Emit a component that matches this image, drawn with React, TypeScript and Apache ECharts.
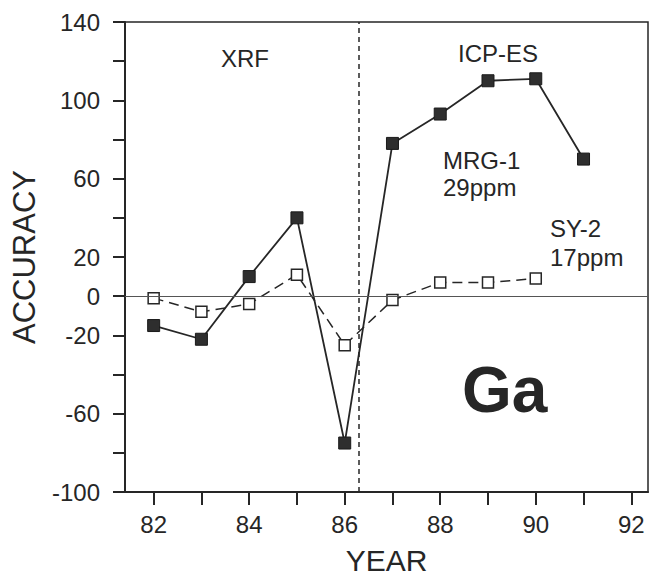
import React, { useEffect, useRef } from "react";
import * as echarts from "echarts";

const years = [82, 83, 84, 85, 86, 87, 88, 89, 90, 91];
const mrg1 = [-15, -22, 10, 40, -75, 78, 93, 110, 111, 70];
const sy2Years = [82, 83, 84, 85, 86, 87, 88, 89, 90];
const sy2 = [-1, -8, -4, 11, -25, -2, 7, 7, 9];
const xLabelValues = [82, 84, 86, 88, 90, 92];
const xTickValues = [82, 83, 84, 85, 86, 87, 88, 89, 90, 91, 92];
const yLabelValues = [-100, -60, -20, 0, 20, 60, 100, 140];
const methodBoundary = 86.3;

const FONT = "'Liberation Sans', Arial, Helvetica, sans-serif";
const INK = "#262626";

export default function App() {
  const ref = useRef<HTMLDivElement>(null);
  useEffect(() => {
    if (!ref.current) return;
    const chart = echarts.init(ref.current, undefined, { renderer: "svg" });
    const textStyle = (size: number, weight: string = "normal") => ({
      fill: INK,
      font: `${weight} ${size}px ${FONT}`,
    });
    chart.setOption({
      animation: false,
      backgroundColor: "#ffffff",
      grid: {
        left: 125,
        right: 2,
        top: 22,
        bottom: 88,
        show: true,
        borderColor: INK,
        borderWidth: 1.5,
        outerBoundsMode: "none",
        containLabel: false,
      },
      xAxis: {
        type: "value",
        min: 81.4,
        max: 92.35,
        name: "YEAR",
        nameLocation: "middle",
        nameGap: 52,
        nameTextStyle: { fontFamily: FONT, fontSize: 30, color: INK, lineHeight: 32 },
        axisLine: { show: true, onZero: false, lineStyle: { color: INK, width: 2 } },
        axisTick: {
          show: true,
          inside: false,
          length: 13,
          customValues: xTickValues,
          lineStyle: { color: INK, width: 2 },
        },
        axisLabel: {
          customValues: xLabelValues,
          fontFamily: FONT,
          fontSize: 24,
          color: INK,
          margin: 20,
        },
        splitLine: { show: false },
      },
      yAxis: {
        type: "value",
        min: -100,
        max: 140,
        interval: 20,
        name: "ACCURACY",
        nameLocation: "middle",
        nameGap: 85,
        nameRotate: 90,
        nameTextStyle: { fontFamily: FONT, fontSize: 31, color: INK },
        axisLine: { show: true, onZero: false, lineStyle: { color: INK, width: 2 } },
        axisTick: { show: true, length: 12, lineStyle: { color: INK, width: 2 } },
        axisLabel: {
          fontFamily: FONT,
          fontSize: 24,
          color: INK,
          margin: 25,
          formatter: (v: number) => (yLabelValues.includes(v) ? String(v) : ""),
        },
        splitLine: { show: false },
      },
      series: [
        {
          name: "SY-2",
          type: "line",
          data: sy2Years.map((y, i) => [y, sy2[i]]),
          symbol: "rect",
          symbolSize: 11,
          itemStyle: { color: "#ffffff", borderColor: INK, borderWidth: 1.5 },
          lineStyle: { color: INK, width: 1.5, type: [10, 6] },
          z: 3,
          markLine: {
            silent: true,
            symbol: "none",
            label: { show: false },
            data: [
              { yAxis: 0, lineStyle: { color: "#555555", width: 1, type: "solid" } },
              { xAxis: methodBoundary, lineStyle: { color: INK, width: 1.5, type: [5, 4] } },
            ],
          },
        },
        {
          name: "MRG-1",
          type: "line",
          data: years.map((y, i) => [y, mrg1[i]]),
          symbol: "rect",
          symbolSize: 12,
          itemStyle: { color: "#2e2e2e", borderColor: "#1a1a1a", borderWidth: 1 },
          lineStyle: { color: INK, width: 1.8, type: "solid" },
          z: 4,
        },
      ],
      graphic: [
        { type: "text", x: 245, y: 58, style: { text: "XRF", align: "center", verticalAlign: "middle", ...textStyle(24) } },
        { type: "text", x: 498, y: 53, style: { text: "ICP-ES", align: "center", verticalAlign: "middle", ...textStyle(24) } },
        { type: "text", x: 443, y: 160, style: { text: "MRG-1", align: "left", verticalAlign: "middle", ...textStyle(24) } },
        { type: "text", x: 443, y: 187, style: { text: "29ppm", align: "left", verticalAlign: "middle", ...textStyle(24) } },
        { type: "text", x: 550, y: 228, style: { text: "SY-2", align: "left", verticalAlign: "middle", ...textStyle(24) } },
        { type: "text", x: 550, y: 257, style: { text: "17ppm", align: "left", verticalAlign: "middle", ...textStyle(24) } },
        { type: "text", x: 462, y: 390, style: { text: "Ga", align: "left", verticalAlign: "middle", ...textStyle(64, "bold") } },
      ],
    });
    return () => chart.dispose();
  }, []);
  return <div ref={ref} style={{ width: 650, height: 580, position: "absolute", left: 0, top: 0 }} />;
}
